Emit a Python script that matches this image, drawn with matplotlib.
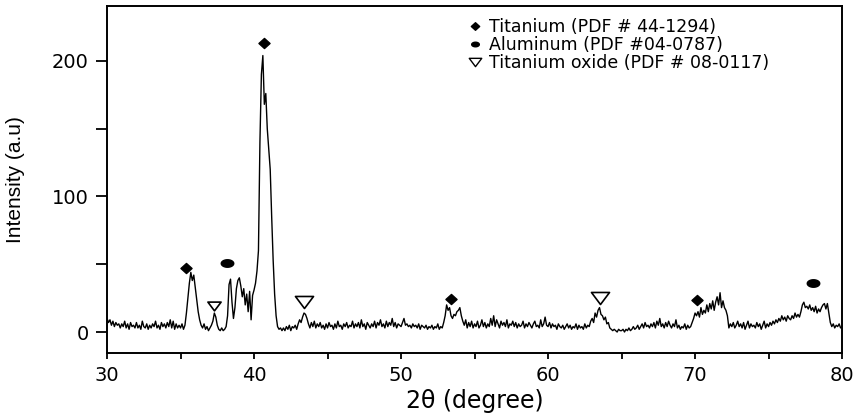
import numpy as np
import matplotlib.pyplot as plt
from matplotlib.path import Path
from matplotlib.lines import Line2D

# XRD pattern, 2theta from 30 to 80 in steps of 0.1
theta_start = 30.0
theta_step = 0.1
intensity = [
    10, 7, 9, 5, 8, 4, 7, 5, 6, 3,        # 30
    6, 4, 8, 3, 6, 2, 7, 4, 5, 3,         # 31
    7, 3, 5, 2, 8, 4, 3, 6, 2, 5,         # 32
    3, 6, 4, 8, 3, 5, 2, 7, 4, 6,         # 33
    3, 7, 4, 9, 3, 8, 2, 6, 3, 5,         # 34
    3, 6, 2, 5, 14, 25, 36, 44, 38, 42,   # 35
    33, 24, 15, 9, 5, 3, 6, 2, 4, 1,      # 36
    3, 5, 8, 14, 11, 5, 2, 1, 3, 1,       # 37
    2, 4, 12, 35, 39, 22, 10, 18, 32, 38,  # 38
    40, 34, 26, 32, 20, 28, 15, 30, 9, 27,  # 39
    31, 36, 45, 60, 140, 190, 204, 168, 176, 150,  # 40
    135, 120, 85, 53, 28, 12, 4, 2, 3, 1,  # 41
    3, 1, 4, 2, 5, 1, 4, 3, 5, 2,         # 42
    6, 9, 7, 11, 14, 13, 10, 6, 3, 7,     # 43
    4, 8, 3, 6, 4, 7, 3, 5, 2, 6,         # 44
    3, 7, 4, 5, 2, 6, 3, 8, 4, 5,         # 45
    2, 6, 4, 7, 3, 5, 4, 8, 3, 6,         # 46
    4, 7, 3, 9, 4, 6, 2, 7, 5, 3,         # 47
    6, 4, 8, 3, 7, 5, 9, 4, 6, 3,         # 48
    8, 4, 7, 5, 10, 4, 7, 3, 6, 5,        # 49
    4, 7, 10, 5, 6, 4, 5, 3, 6, 4,        # 50
    5, 3, 6, 2, 5, 4, 3, 5, 2, 4,         # 51
    3, 5, 2, 4, 3, 6, 2, 4, 3, 7,         # 52
    12, 20, 16, 18, 12, 10, 13, 12, 15, 16,  # 53
    18, 12, 8, 5, 9, 3, 7, 4, 8, 3,       # 54
    6, 4, 8, 3, 5, 9, 4, 7, 3, 6,         # 55
    4, 10, 5, 12, 4, 9, 6, 3, 8, 5,       # 56
    7, 4, 9, 3, 6, 5, 8, 4, 7, 3,         # 57
    6, 4, 5, 8, 3, 6, 4, 7, 5, 3,         # 58
    6, 8, 4, 5, 3, 9, 4, 6, 11, 5,        # 59
    4, 7, 3, 6, 4, 5, 2, 6, 4, 3,         # 60
    5, 2, 4, 6, 3, 5, 2, 4, 3, 6,         # 61
    2, 5, 3, 4, 2, 6, 3, 5, 4, 8,         # 62
    10, 7, 14, 11, 16, 18, 13, 12, 9, 11,  # 63
    6, 7, 3, 2, 1, 2, 1, 0, 2, 1,         # 64
    1, 2, 0, 2, 1, 3, 1, 2, 4, 2,         # 65
    3, 5, 2, 4, 6, 3, 7, 4, 5, 3,         # 66
    6, 4, 7, 3, 8, 5, 10, 4, 6, 3,        # 67
    7, 4, 8, 5, 3, 6, 4, 9, 3, 5,         # 68
    2, 4, 3, 6, 2, 5, 3, 4, 7, 10,        # 69
    14, 12, 15, 11, 18, 13, 16, 14, 20, 15,  # 70
    21, 17, 23, 16, 22, 26, 20, 29, 18, 23,  # 71
    18, 16, 12, 3, 6, 4, 7, 3, 5, 8,      # 72
    4, 6, 3, 7, 2, 5, 8, 3, 6, 4,         # 73
    5, 3, 7, 4, 6, 2, 5, 8, 3, 6,         # 74
    4, 7, 5, 8, 6, 9, 7, 10, 8, 12,       # 75
    9, 11, 8, 12, 10, 9, 12, 10, 14, 11,  # 76
    13, 11, 15, 20, 22, 18, 19, 17, 20, 16,  # 77
    18, 15, 19, 14, 17, 15, 18, 20, 21, 17,  # 78
    21, 14, 7, 4, 6, 3, 5, 4, 6, 3,       # 79
    4,                                    # 80
]
two_theta = theta_start + theta_step * np.arange(len(intensity))

# phase markers above the peaks
ti_pos = [35.4, 40.65, 53.4, 70.1]
ti_y = [47, 213, 24.5, 23.5]
al_pos = [38.15, 78.0]
al_y = [51, 36]
tio_pos = [37.25, 43.4, 63.5]
tio_y = [19, 22, 25]
tio_size = [9.5, 13, 13]

legend_labels = ['Titanium (PDF # 44-1294)',
                 'Aluminum (PDF #04-0787)',
                 'Titanium oxide (PDF # 08-0117)']

# marker shapes (the picture is a bit stretched sideways)
t = np.linspace(0, 2 * np.pi, 40)
ellipse = Path(np.column_stack([np.cos(t), 0.6 * np.sin(t)]), closed=True)
diamond = Path([(-1.1, 0), (0, 1), (1.1, 0), (0, -1), (-1.1, 0)], closed=True)
tri_down = Path([(-1.5, 1), (1.5, 1), (0, -1), (-1.5, 1)], closed=True)

fig = plt.figure(figsize=(8.59, 4.16), dpi=100)
ax = fig.add_axes([0.1246, 0.1514, 0.8557, 0.834])

ax.plot(two_theta, intensity, color='black', lw=1.0)

ax.plot(ti_pos, ti_y, ls='none', marker=diamond, ms=8, color='black')
ax.plot(al_pos, al_y, ls='none', marker=ellipse, ms=9, color='black')
for xp, yp, s in zip(tio_pos, tio_y, tio_size):
    ax.plot([xp], [yp], ls='none', marker=tri_down, ms=s,
            mfc='white', mec='black', mew=1.2)

handles = [
    Line2D([], [], ls='none', marker=diamond, ms=6, color='black'),
    Line2D([], [], ls='none', marker=ellipse, ms=5.5, color='black'),
    Line2D([], [], ls='none', marker=tri_down, ms=9, mfc='white',
           mec='black', mew=1.0),
]
ax.legend(handles, legend_labels, loc='upper left',
          bbox_to_anchor=(0.478, 0.99), frameon=False, borderpad=0,
          handlelength=0.9, handletextpad=0.35, labelspacing=0.0,
          prop={'family': 'DejaVu Sans', 'size': 12.5})

ax.set_xlim(30, 80)
ax.set_ylim(-15.5, 240.5)
ax.set_xticks([30, 40, 50, 60, 70, 80])
ax.set_xticks([35, 45, 55, 65, 75], minor=True)
ax.set_yticks([0, 100, 200])
ax.set_yticks([50, 150], minor=True)
ax.tick_params(axis='both', which='both', direction='out', width=1.3,
               top=False, right=False)
ax.tick_params(axis='y', which='both', length=8, labelsize=14, pad=5)
ax.tick_params(axis='x', which='both', length=4, labelsize=14, pad=5)
for lab in ax.get_xticklabels() + ax.get_yticklabels():
    lab.set_family('DejaVu Sans')
for sp in ax.spines.values():
    sp.set_linewidth(1.4)

ax.set_xlabel('2θ (degree)', fontsize=17, family='DejaVu Sans')
ax.set_ylabel('Intensity (a.u)', fontsize=15, family='Liberation Sans')
ax.xaxis.set_label_coords(0.5, -0.105)
ax.yaxis.set_label_coords(-0.112, 0.5)

fig.savefig('out.png', dpi=100)
